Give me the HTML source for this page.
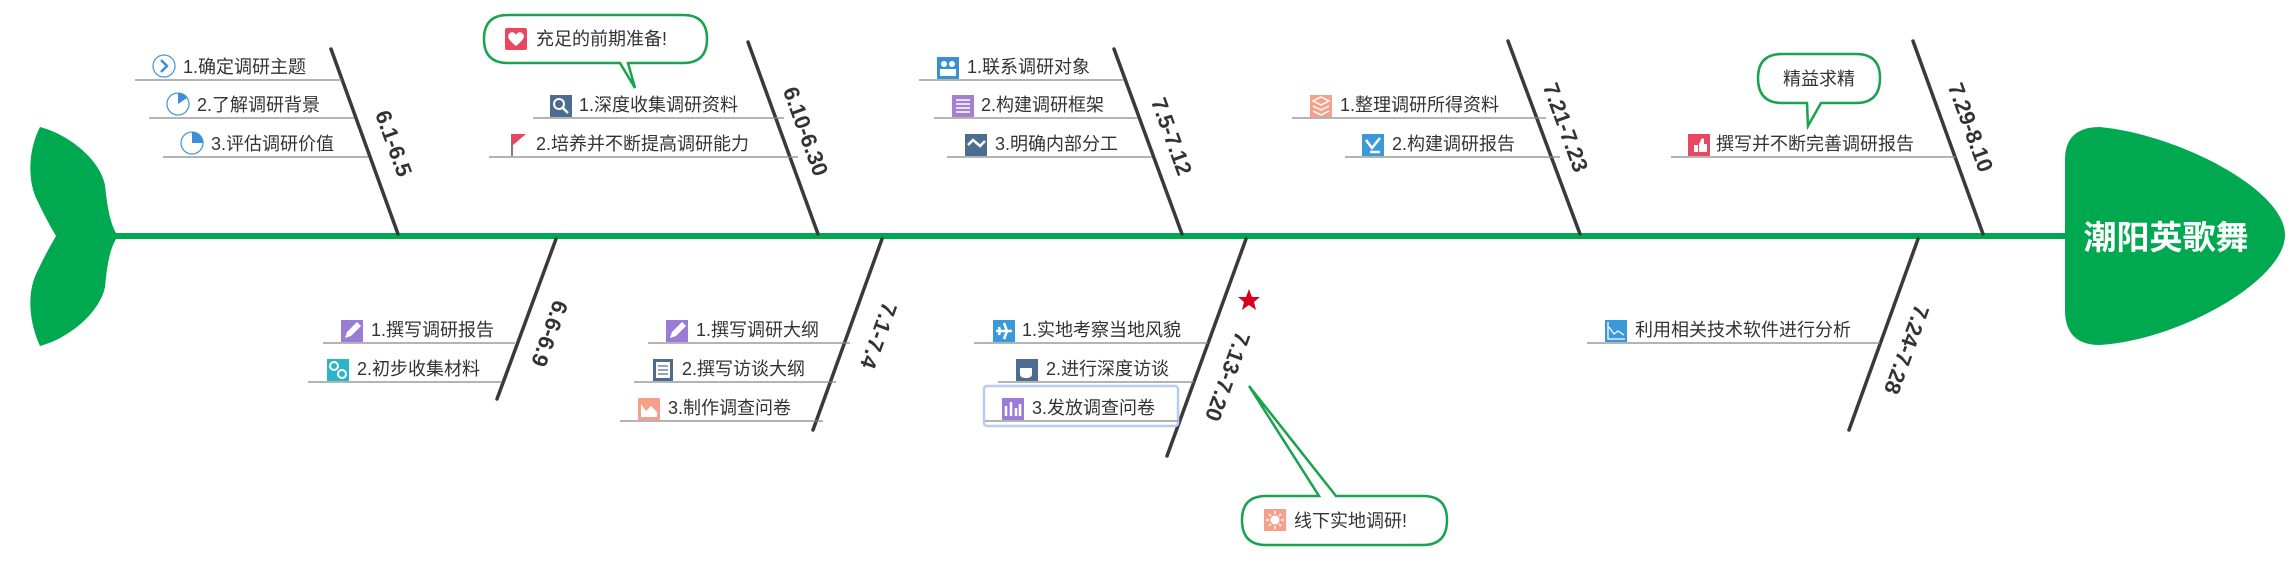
<!DOCTYPE html>
<html><head><meta charset="utf-8"><style>
html,body{margin:0;padding:0;background:#fff;}
svg{display:block;}
text{font-family:"Liberation Sans","Noto Sans CJK SC",sans-serif;}
.t{font-size:18px;fill:#333;}
.b{font-size:22px;font-weight:bold;fill:#333;}
.u{stroke:#888;stroke-width:1.3;}
.bone{stroke:#3a3a3a;stroke-width:3.5;stroke-linecap:round;}
</style></head><body>
<svg width="2294" height="564" viewBox="0 0 2294 564" xmlns="http://www.w3.org/2000/svg">
<!-- tail -->
<path d="M40,127 C70,135 100,160 105,185 C107,205 110,225 118,236 C110,247 107,265 105,287 C100,312 70,338 40,346 C28,320 27,290 38,270 C45,255 52,243 56,236 C52,229 45,217 38,202 C27,182 28,150 40,127 Z" fill="#00a84f"/>
<!-- spine -->
<line x1="115" y1="236" x2="2070" y2="236" stroke="#00a84f" stroke-width="6"/>
<!-- head -->
<path d="M2065,160 Q2065,127 2100,127 C2180,135 2285,190 2285,235 C2285,280 2180,340 2100,345 Q2065,345 2065,310 Z" fill="#00a84f"/>
<text x="2166" y="249" text-anchor="middle" style="font-size:33px;font-weight:bold;fill:#fff;">潮阳英歌舞</text>

<!-- bones top -->
<line class="bone" x1="331" y1="49" x2="398" y2="234"/>
<line class="bone" x1="748" y1="42" x2="818" y2="234"/>
<line class="bone" x1="1114" y1="49" x2="1182" y2="234"/>
<line class="bone" x1="1508" y1="41" x2="1580" y2="234"/>
<line class="bone" x1="1913" y1="41" x2="1983" y2="234"/>
<!-- bones bottom -->
<line class="bone" x1="556" y1="239" x2="497" y2="399"/>
<line class="bone" x1="882" y1="239" x2="813" y2="430"/>
<line class="bone" x1="1246" y1="239" x2="1167" y2="456"/>
<line class="bone" x1="1918" y1="239" x2="1849" y2="430"/>

<!-- bone labels -->
<text class="b" transform="translate(392,144) rotate(70)" text-anchor="middle" dominant-baseline="middle">6.1-6.5</text>
<text class="b" transform="translate(804,132) rotate(70)" text-anchor="middle" dominant-baseline="middle">6.10-6.30</text>
<text class="b" transform="translate(1170,137) rotate(70)" text-anchor="middle" dominant-baseline="middle">7.5-7.12</text>
<text class="b" transform="translate(1564,128) rotate(70)" text-anchor="middle" dominant-baseline="middle">7.21-7.23</text>
<text class="b" transform="translate(1969,128) rotate(70)" text-anchor="middle" dominant-baseline="middle">7.29-8.10</text>
<text class="b" transform="translate(548,333) rotate(110)" text-anchor="middle" dominant-baseline="middle">6.6-6.9</text>
<text class="b" transform="translate(877,335) rotate(110)" text-anchor="middle" dominant-baseline="middle">7.1-7.4</text>
<text class="b" transform="translate(1226,376) rotate(110)" text-anchor="middle" dominant-baseline="middle">7.13-7.20</text>
<text class="b" transform="translate(1905,349) rotate(110)" text-anchor="middle" dominant-baseline="middle">7.24-7.28</text>

<!-- B1 items -->
<line class="u" x1="135" y1="80" x2="342" y2="80"/>
<circle cx="164" cy="66" r="11" fill="#fff" stroke="#4a9ad8" stroke-width="1.3"/>
<path d="M161,60 L167,66 L161,72" fill="none" stroke="#3a8fd6" stroke-width="2.5"/>
<text class="t" x="183" y="73">1.确定调研主题</text>
<line class="u" x1="149" y1="118" x2="354" y2="118"/>
<circle cx="178" cy="104" r="11" fill="#fff" stroke="#4a9ad8" stroke-width="1.3"/>
<path d="M178,104 L178,93 A11,11 0 0 1 187,98 Z" fill="#3a8fd6"/>
<text class="t" x="197" y="111">2.了解调研背景</text>
<line class="u" x1="163" y1="157" x2="368" y2="157"/>
<circle cx="192" cy="143" r="11" fill="#fff" stroke="#4a9ad8" stroke-width="1.3"/>
<path d="M192,143 L192,132 A11,11 0 0 1 203,143 Z" fill="#3a8fd6"/>
<text class="t" x="211" y="150">3.评估调研价值</text>

<!-- B2 items -->
<line class="u" x1="533" y1="118" x2="784" y2="118"/>
<rect x="550" y="95" width="22" height="22" fill="#4d6d90"/>
<circle cx="559" cy="104" r="5" fill="none" stroke="#fff" stroke-width="2"/>
<line x1="563" y1="108" x2="568" y2="113" stroke="#fff" stroke-width="2.5"/>
<text class="t" x="579" y="111">1.深度收集调研资料</text>
<line class="u" x1="489" y1="157" x2="798" y2="157"/>
<line x1="512" y1="134" x2="512" y2="156" stroke="#555" stroke-width="1.5"/>
<path d="M512,134 L526,134 L512,146 Z" fill="#e8475f"/>
<text class="t" x="536" y="150">2.培养并不断提高调研能力</text>
<!-- bubble 1 -->
<path d="M508,15 L683,15 Q707,15 707,39 Q707,63 683,63 L628,63 L635,88 L620,63 L508,63 Q484,63 484,39 Q484,15 508,15 Z" fill="#fff" stroke="#1aa34f" stroke-width="2.5"/>
<rect x="505" y="28" width="22" height="22" rx="2" fill="#e8475f"/>
<path d="M516,46 C508,40 507,36 509,34 C511,31 515,32 516,35 C517,32 521,31 523,34 C525,36 524,40 516,46 Z" fill="#fff"/>
<text class="t" x="536" y="45">充足的前期准备!</text>

<!-- B3 items -->
<line class="u" x1="919" y1="80" x2="1124" y2="80"/>
<rect x="937" y="57" width="22" height="22" fill="#3a8fd6"/>
<circle cx="944" cy="64" r="3" fill="#fff"/><circle cx="952" cy="64" r="3" fill="#fff"/>
<rect x="940" y="69" width="16" height="7" fill="#fff"/>
<text class="t" x="967" y="73">1.联系调研对象</text>
<line class="u" x1="934" y1="118" x2="1138" y2="118"/>
<rect x="952" y="95" width="22" height="22" fill="#a57fd0"/>
<path d="M956,100h14M956,104h14M956,108h14M956,112h14" stroke="#fff" stroke-width="1.5"/>
<text class="t" x="981" y="111">2.构建调研框架</text>
<line class="u" x1="947" y1="157" x2="1152" y2="157"/>
<rect x="965" y="134" width="22" height="22" fill="#4d6d90"/>
<path d="M968,145 L973,140 L980,146 L985,141" stroke="#fff" stroke-width="2.5" fill="none"/>
<text class="t" x="995" y="150">3.明确内部分工</text>

<!-- B4 items -->
<line class="u" x1="1292" y1="118" x2="1546" y2="118"/>
<rect x="1310" y="95" width="22" height="22" fill="#f4a08a"/>
<path d="M1313,101 L1321,97 L1329,101 L1321,105 Z M1313,106 L1321,110 L1329,106 M1313,111 L1321,115 L1329,111" stroke="#fff" stroke-width="1.5" fill="none"/>
<text class="t" x="1340" y="111">1.整理调研所得资料</text>
<line class="u" x1="1345" y1="157" x2="1560" y2="157"/>
<rect x="1362" y="134" width="22" height="22" fill="#3a9ad9"/>
<path d="M1366,140 L1372,148 L1380,138 M1370,152 h10" stroke="#fff" stroke-width="2.5" fill="none"/>
<text class="t" x="1392" y="150">2.构建调研报告</text>

<!-- B5 items -->
<line class="u" x1="1671" y1="157" x2="1956" y2="157"/>
<rect x="1688" y="134" width="22" height="22" fill="#e8475f"/>
<path d="M1694,145 h4 v7 h-4 Z M1699,144 l3,-6 l2,1 v5 h3 v8 h-8 Z" fill="#fff"/>
<text class="t" x="1716" y="150">撰写并不断完善调研报告</text>
<path d="M1782,54 L1856,54 Q1880,54 1880,78 Q1880,103 1856,103 L1821,103 L1808,126 L1807,103 L1782,103 Q1758,103 1758,78 Q1758,54 1782,54 Z" fill="#fff" stroke="#1aa34f" stroke-width="2.5"/>
<text class="t" x="1819" y="85" text-anchor="middle">精益求精</text>

<!-- L1 items -->
<line class="u" x1="323" y1="343" x2="515" y2="343"/>
<rect x="341" y="320" width="22" height="22" fill="#9a7bd6"/>
<path d="M345,338 L347,332 L357,322 L361,326 L351,336 Z" fill="#fff"/>
<text class="t" x="371" y="336">1.撰写调研报告</text>
<line class="u" x1="308" y1="382" x2="502" y2="382"/>
<rect x="327" y="359" width="22" height="22" fill="#2bb5c8"/>
<circle cx="334" cy="366" r="4" fill="none" stroke="#fff" stroke-width="2"/><circle cx="342" cy="374" r="4" fill="none" stroke="#fff" stroke-width="2"/>
<text class="t" x="357" y="375">2.初步收集材料</text>

<!-- L2 items -->
<line class="u" x1="648" y1="343" x2="850" y2="343"/>
<rect x="666" y="320" width="22" height="22" fill="#9a7bd6"/>
<path d="M670,338 L672,332 L682,322 L686,326 L676,336 Z" fill="#fff"/>
<text class="t" x="696" y="336">1.撰写调研大纲</text>
<line class="u" x1="634" y1="382" x2="836" y2="382"/>
<rect x="653" y="359" width="20" height="22" fill="#4d6d90"/>
<rect x="656" y="362" width="14" height="16" fill="#fff"/>
<path d="M658,366h10M658,370h10M658,374h10" stroke="#4d6d90" stroke-width="1.3"/>
<text class="t" x="682" y="375">2.撰写访谈大纲</text>
<line class="u" x1="620" y1="421" x2="823" y2="421"/>
<rect x="638" y="398" width="22" height="22" fill="#f4a08a"/>
<path d="M641,404 L646,411 L651,406 L657,412 L657,417 L641,417 Z" fill="#fff"/>
<text class="t" x="668" y="414">3.制作调查问卷</text>

<!-- L3 items -->
<line class="u" x1="974" y1="343" x2="1208" y2="343"/>
<rect x="993" y="320" width="22" height="22" fill="#3a9ad9"/>
<path d="M996,331 L1012,331 M1004,323 L1007,331 L1004,339 M999,327 L1000,331 L999,335" stroke="#fff" stroke-width="2.5" fill="none"/>
<text class="t" x="1022" y="336">1.实地考察当地风貌</text>
<line class="u" x1="998" y1="382" x2="1194" y2="382"/>
<rect x="1016" y="359" width="22" height="22" fill="#4d6d90"/>
<path d="M1020,368 h12 v6 q0,4 -6,4 q-6,0 -6,-4 Z" fill="#fff"/>
<text class="t" x="1046" y="375">2.进行深度访谈</text>
<rect x="984" y="386" width="194" height="40" rx="3" fill="#fff" stroke="#b8cdee" stroke-width="2.5"/>
<line class="u" x1="985" y1="421" x2="1178" y2="421"/>
<rect x="1002" y="398" width="22" height="22" fill="#9a7bd6"/>
<path d="M1006,416 V406 M1011,416 V402 M1016,416 V408 M1020,416 V404" stroke="#fff" stroke-width="2.5"/>
<text class="t" x="1032" y="414">3.发放调查问卷</text>
<!-- star -->
<polygon points="1249,289 1252,297 1260,297 1254,302 1256,310 1249,305 1242,310 1244,302 1238,297 1246,297" fill="#d9001b"/>
<!-- bubble 2 -->
<path d="M1266,496 L1319,496 L1249,386 L1336,496 L1423,496 Q1447,496 1447,520 Q1447,545 1423,545 L1266,545 Q1242,545 1242,520 Q1242,496 1266,496 Z" fill="#fff" stroke="#1aa34f" stroke-width="2.5"/>
<rect x="1264" y="509" width="22" height="22" fill="#f4a08a"/>
<circle cx="1275" cy="520" r="4.5" fill="#fff"/>
<path d="M1275,511v3M1275,526v3M1266,520h3M1281,520h3M1269,514l2,2M1279,524l2,2M1281,514l-2,2M1269,526l2,-2" stroke="#fff" stroke-width="1.5"/>
<text class="t" x="1294" y="527">线下实地调研!</text>

<!-- L4 item -->
<line class="u" x1="1587" y1="343" x2="1880" y2="343"/>
<rect x="1605" y="320" width="22" height="22" fill="#3a9ad9"/>
<path d="M1608,322 V339 H1625 M1609,327 L1614,334 L1618,331 L1624,335" stroke="#fff" stroke-width="1.3" fill="none"/>
<text class="t" x="1635" y="336">利用相关技术软件进行分析</text>
</svg>
</body></html>
